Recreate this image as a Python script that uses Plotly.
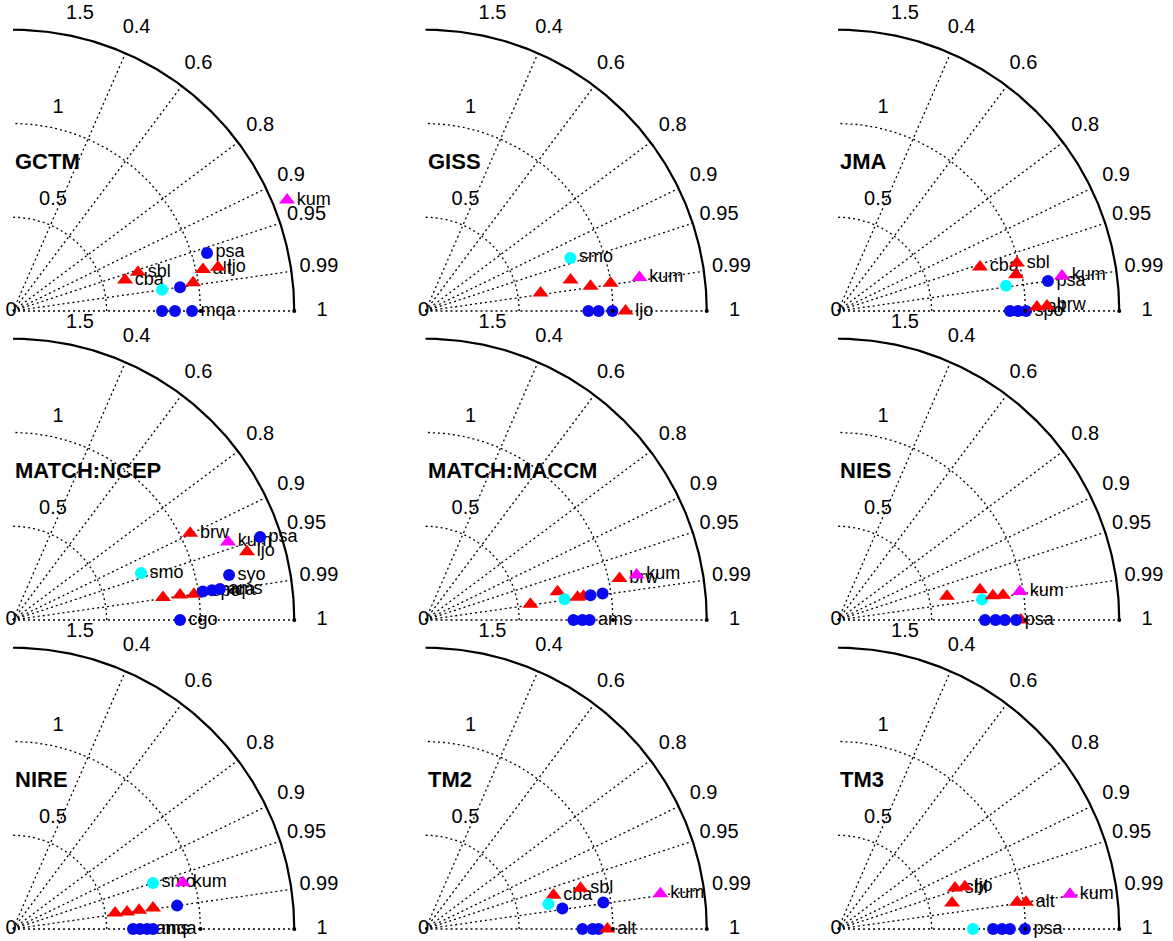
import numpy as np
import plotly.graph_objects as go

# ---------------- data (std normalised, correlation) ----------------
models = ["GCTM", "GISS", "JMA", "MATCH:NCEP", "MATCH:MACCM", "NIES", "NIRE", "TM2", "TM3"]

gctm_lab = ["kum", "psa", "alt", "ljo", "sbl", "cba", "", "", "", "", "", "mqa"]
gctm_typ = ["m", "b", "r", "r", "r", "r", "c", "b", "r", "b", "b", "b"]
gctm_std = [1.577, 1.080, 1.037, 1.118, 0.698, 0.620, 0.803, 0.900, 0.972, 0.795, 0.864, 0.955]
gctm_cor = [0.927, 0.958, 0.977, 0.978, 0.955, 0.964, 0.990, 0.990, 0.988, 1.0, 1.0, 1.0]

giss_lab = ["smo", "kum", "", "", "", "", "", "", "", "ljo"]
giss_typ = ["c", "m", "r", "r", "r", "r", "b", "b", "b", "r"]
giss_std = [0.823, 1.155, 0.791, 0.890, 0.998, 0.621, 0.869, 0.923, 0.997, 1.067]
giss_cor = [0.939, 0.988, 0.978, 0.989, 0.989, 0.988, 1.0, 1.0, 1.0, 1.0]

jma_lab = ["cba", "sbl", "", "", "psa", "kum", "", "", "spo", "alt", "brw"]
jma_typ = ["r", "r", "r", "c", "b", "m", "b", "b", "b", "r", "r"]
jma_std = [0.793, 0.988, 0.969, 0.906, 1.131, 1.209, 0.917, 0.960, 1.003, 1.061, 1.115]
jma_cor = [0.955, 0.966, 0.980, 0.989, 0.990, 0.988, 1.0, 1.0, 1.0, 0.9998, 0.9997]

ncep_lab = ["brw", "kum", "psa", "ljo", "smo", "syo", "", "", "", "spo", "mqa", "ams", "cgo"]
ncep_typ = ["r", "m", "b", "r", "c", "b", "r", "r", "r", "b", "b", "b", "b"]
ncep_std = [1.052, 1.220, 1.390, 1.300, 0.727, 1.177, 0.809, 0.901, 0.975, 1.024, 1.073, 1.116, 0.891]
ncep_cor = [0.898, 0.940, 0.948, 0.960, 0.939, 0.979, 0.989, 0.989, 0.990, 0.989, 0.989, 0.989, 1.0]

maccm_lab = ["", "", "", "", "", "", "", "brw", "kum", "", "", "ams"]
maccm_typ = ["r", "r", "c", "r", "r", "b", "b", "r", "m", "b", "b", "b"]
maccm_std = [0.566, 0.720, 0.750, 0.820, 0.852, 0.890, 0.955, 1.058, 1.151, 0.789, 0.837, 0.875]
maccm_cor = [0.989, 0.978, 0.989, 0.989, 0.989, 0.989, 0.989, 0.978, 0.978, 1.0, 1.0, 1.0]

nies_lab = ["", "", "", "", "", "kum", "", "", "", "", "psa"]
nies_typ = ["r", "r", "c", "r", "r", "m", "r", "b", "b", "b", "b"]
nies_std = [0.595, 0.774, 0.776, 0.836, 0.890, 0.982, 0.975, 0.784, 0.840, 0.890, 0.950]
nies_cor = [0.977, 0.978, 0.990, 0.988, 0.989, 0.988, 1.0, 1.0, 1.0, 1.0, 1.0]

nire_lab = ["smo", "kum", "", "", "", "", "", "", "", "ams", "mqa"]
nire_typ = ["c", "m", "r", "r", "r", "r", "b", "b", "b", "b", "b"]
nire_std = [0.786, 0.939, 0.551, 0.615, 0.680, 0.755, 0.884, 0.640, 0.677, 0.715, 0.747]
nire_cor = [0.950, 0.965, 0.988, 0.989, 0.989, 0.989, 0.990, 1.0, 1.0, 1.0, 1.0]

tm2_lab = ["cba", "sbl", "", "", "", "kum", "", "", "", "alt"]
tm2_typ = ["r", "r", "c", "b", "b", "m", "b", "b", "b", "r"]
tm2_std = [0.706, 0.855, 0.669, 0.738, 0.959, 1.267, 0.837, 0.891, 0.923, 0.970]
tm2_cor = [0.967, 0.967, 0.980, 0.989, 0.989, 0.989, 1.0, 1.0, 1.0, 1.0]

tm3_lab = ["sbl", "ljo", "", "", "alt", "kum", "", "", "", "", "psa"]
tm3_typ = ["r", "r", "r", "r", "r", "m", "c", "b", "b", "b", "b"]
tm3_std = [0.661, 0.713, 0.624, 0.966, 1.013, 1.251, 0.720, 0.827, 0.875, 0.917, 0.997]
tm3_cor = [0.944, 0.949, 0.975, 0.989, 0.990, 0.989, 1.0, 1.0, 1.0, 1.0, 1.0]

cor_ticks = [0.4, 0.6, 0.8, 0.9, 0.95, 0.99, 1.0]
cor_tick_text = ["0.4", "0.6", "0.8", "0.9", "0.95", "0.99", "1"]
std_ticks = [0.5, 1.0]
std_max = 1.5
std_tick_text = ["0", "0.5", "1", "1.5"]

panels = {
    "GCTM": (gctm_std, gctm_cor, gctm_typ, gctm_lab),
    "GISS": (giss_std, giss_cor, giss_typ, giss_lab),
    "JMA": (jma_std, jma_cor, jma_typ, jma_lab),
    "MATCH:NCEP": (ncep_std, ncep_cor, ncep_typ, ncep_lab),
    "MATCH:MACCM": (maccm_std, maccm_cor, maccm_typ, maccm_lab),
    "NIES": (nies_std, nies_cor, nies_typ, nies_lab),
    "NIRE": (nire_std, nire_cor, nire_typ, nire_lab),
    "TM2": (tm2_std, tm2_cor, tm2_typ, tm2_lab),
    "TM3": (tm3_std, tm3_cor, tm3_typ, tm3_lab),
}

# ---------------- styling / layout ----------------
W, H = 1173, 941
PX = 187.5                      # pixels per unit of std
OX = [13, 425.5, 838]           # origin pixel x per column
OY = [311, 620, 929]            # origin pixel y per row
FONT = "Liberation Sans, Arial, sans-serif"
DOT = "2px,3px"

style = {
    "b": dict(symbol="circle", color="#0a0af0", size=12),
    "c": dict(symbol="circle", color="#00ffff", size=12),
    "r": dict(symbol="triangle-up", color="#ff0000", size=14),
    "m": dict(symbol="triangle-up", color="#ff00ff", size=14),
}

# positions of std labels (x, y in std units) relative to origin
std_lab_pos = [(-0.010, 0.0), (0.213, 0.592), (0.240, 1.083), (0.357, 1.585)]
COR_LAB_R = 1.648

fig = go.Figure()
layout = dict(width=W, height=H, margin=dict(l=0, r=0, t=0, b=0),
              paper_bgcolor="white", plot_bgcolor="rgba(0,0,0,0)",
              showlegend=False, annotations=[])

th = np.linspace(0, np.pi / 2, 200)

for k, name in enumerate(models):
    r, c = divmod(k, 3)
    xa = "x" if k == 0 else f"x{k+1}"
    ya = "y" if k == 0 else f"y{k+1}"
    xk = "xaxis" if k == 0 else f"xaxis{k+1}"
    yk = "yaxis" if k == 0 else f"yaxis{k+1}"
    x0p, x1p = OX[c] - 13, OX[c] + 335
    ytop, ybot = OY[r] - 311, OY[r] + 10
    layout[xk] = dict(domain=[x0p / W, min(x1p / W, 1.0)], range=[-13 / PX, 335 / PX],
                      visible=False, anchor=ya, fixedrange=True)
    layout[yk] = dict(domain=[max((H - ybot) / H, 0.0), min((H - ytop) / H, 1.0)],
                      range=[-10 / PX, 311 / PX], visible=False, anchor=xa, fixedrange=True)
    common = dict(xaxis=xa, yaxis=ya, showlegend=False, hoverinfo="skip", cliponaxis=False)

    # dotted std arcs
    for s in std_ticks:
        fig.add_trace(go.Scatter(x=s * np.cos(th), y=s * np.sin(th), mode="lines",
                                 line=dict(color="black", width=1.3, dash=DOT), **common))
    # correlation rays
    for cv in cor_ticks:
        a = np.arccos(cv)
        fig.add_trace(go.Scatter(x=[0, std_max * np.cos(a)], y=[0, std_max * np.sin(a)],
                                 mode="lines", line=dict(color="black", width=1.3, dash=DOT), **common))
    # outer arc
    fig.add_trace(go.Scatter(x=std_max * np.cos(th), y=std_max * np.sin(th), mode="lines",
                             line=dict(color="black", width=2.2), **common))
    # correlation tick labels
    ang = np.arccos(np.array(cor_ticks))
    fig.add_trace(go.Scatter(x=COR_LAB_R * np.cos(ang), y=COR_LAB_R * np.sin(ang), mode="text",
                             text=cor_tick_text, textposition="middle center",
                             textfont=dict(family=FONT, size=20, color="black"), **common))
    # std tick labels
    fig.add_trace(go.Scatter(x=[p[0] for p in std_lab_pos], y=[p[1] for p in std_lab_pos], mode="text",
                             text=std_tick_text, textposition="middle center",
                             textfont=dict(family=FONT, size=20, color="black"), **common))

    # data points
    sd, cr, ty, lb = panels[name]
    for s, cv, t, l in zip(sd, cr, ty, lb):
        a = np.arccos(min(cv, 1.0))
        st = style[t]
        fig.add_trace(go.Scatter(
            x=[s * np.cos(a)], y=[s * np.sin(a)],
            mode="markers+text" if l else "markers",
            text=[l] if l else None, textposition="middle right",
            textfont=dict(family=FONT, size=18, color="black"),
            marker=dict(symbol=st["symbol"], color=st["color"], size=st["size"], line=dict(width=0)),
            **common))

    # reference points
    fig.add_trace(go.Scatter(x=[1.0, std_max], y=[0, 0], mode="markers",
                             marker=dict(color="black", size=4), **common))

    layout["annotations"].append(dict(x=0.0, y=0.795, xref=xa, yref=ya, text=f"<b>{name}</b>",
                                      showarrow=False, xanchor="left", yanchor="middle",
                                      font=dict(family=FONT, size=22, color="black")))

fig.update_layout(**layout)
fig.write_html("out.html", config={"displayModeBar": False},
               post_script="document.body.style.margin='0px';document.body.style.overflow='hidden';")
